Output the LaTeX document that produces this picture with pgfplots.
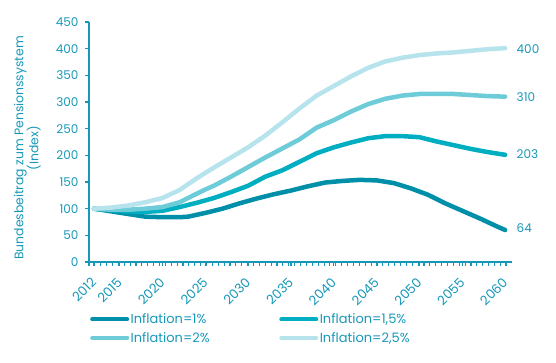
\documentclass[border=0pt]{standalone}
\usepackage{fontspec}
\setmainfont{Poppins}
\usepackage{pgfplots}
\pgfplotsset{compat=1.18}
\definecolor{cA}{RGB}{0,143,168}
\definecolor{cB}{RGB}{0,174,193}
\definecolor{cC}{RGB}{110,203,216}
\definecolor{cD}{RGB}{183,228,236}
\definecolor{txt}{RGB}{24,152,184}
\begin{document}
\begin{tikzpicture}
\path[use as bounding box] (-89pt,-101pt) rectangle (467pt,262pt);
\begin{axis}[
  scale only axis, width=423pt, height=240pt,
  xmin=2011.42, xmax=2060.8, ymin=0, ymax=450,
  axis x line*=bottom, axis y line*=left,
  axis line style={draw=txt, line width=1.3pt},
  tick align=outside,
  tick style={draw=txt, line width=1.1pt},
  major tick length=4pt,
  minor tick length=4pt,
  xtick={2012,2015,2020,2025,2030,2035,2040,2045,2050,2055,2060},
  minor xtick={2011.42,2012.106,...,2060.9},
  ytick={0,50,...,450},
  /pgf/number format/1000 sep={},
  /pgf/number format/assume math mode=true,
  yticklabel style={font=\fontsize{12}{14}\selectfont, text=txt, xshift=-3pt},
  xticklabel style={font=\fontsize{13}{15}\selectfont, text=txt, yshift=-14pt, rotate=45, anchor=east, inner sep=0pt},
  every axis y label/.style={at={(axis description cs:-0.146,0.475)}, rotate=90, anchor=center, align=center, font=\fontsize{12.4}{15}\selectfont, text=txt},
  ylabel={Bundesbeitrag zum Pensionssystem\\(Index)},
  clip=false,
  legend columns=2,
  legend image code/.code={\draw[#1, line width=4pt, line cap=round] (0pt,0pt) -- (35pt,0pt);},
  legend style={at={(0,0)}, anchor=north west, xshift=1pt, yshift=-50pt, draw=none, fill=none, inner sep=0pt, row sep=4pt,
    font=\fontsize{13}{15}\selectfont, text=txt, cells={anchor=west},
    /tikz/every even column/.append style={column sep=68pt},
    nodes={inner sep=1.5pt}},
  every axis plot/.append style={line width=4.5pt, line cap=round, line join=round},
]
\addplot[cA] coordinates {(2012,100)(2014,95)(2016,90)(2018,85)(2020,84)(2022,84)(2023,85)(2025,92)(2027,100)(2029,110)(2031,119)(2033,127)(2035,134)(2037,142)(2039,149)(2041,152)(2043,154)(2045,153)(2047,148)(2049,138)(2051,126)(2053,110)(2055,96)(2057,82)(2059,67)(2060,60)};
\addlegendentry{Inflation=1\%}
\addplot[cB] coordinates {(2012,100)(2014,97)(2016,95)(2018,94)(2020,96)(2022,103)(2024,111)(2026,120)(2028,131)(2030,143)(2032,160)(2034,172)(2036,188)(2038,204)(2040,215)(2042,224)(2044,232)(2046,236)(2048,236)(2050,234)(2052,226)(2054,219)(2056,212)(2058,206)(2060,201)};
\addlegendentry{Inflation=1,5\%}
\addplot[cC] coordinates {(2012,100)(2014,98)(2016,98)(2018,100)(2020,103)(2022,112)(2024,128)(2025,136)(2026,143)(2028,160)(2030,178)(2032,196)(2034,213)(2036,230)(2038,252)(2040,266)(2042,282)(2044,296)(2046,306)(2048,312)(2050,315)(2052,315)(2054,315)(2056,313)(2058,311)(2060,310)};
\addlegendentry{Inflation=2\%}
\addplot[cD] coordinates {(2012,100)(2014,102)(2016,106)(2018,112)(2020,120)(2022,135)(2024,157)(2025,167)(2026,177)(2028,196)(2030,215)(2032,237)(2034,262)(2036,288)(2038,312)(2040,330)(2042,348)(2044,364)(2046,376)(2048,383)(2050,388)(2052,391)(2054,393)(2056,396)(2058,399)(2060,401)};
\addlegendentry{Inflation=2,5\%}
\node[anchor=west, text=txt, font=\fontsize{12}{14}\selectfont] at (axis cs:2060,400) {\hspace*{8pt}400};
\node[anchor=west, text=txt, font=\fontsize{12}{14}\selectfont] at (axis cs:2060,310) {\hspace*{8pt}310};
\node[anchor=west, text=txt, font=\fontsize{12}{14}\selectfont] at (axis cs:2060,203) {\hspace*{8pt}203};
\node[anchor=west, text=txt, font=\fontsize{12}{14}\selectfont] at (axis cs:2060,64) {\hspace*{8pt}64};
\end{axis}
\end{tikzpicture}
\end{document}
